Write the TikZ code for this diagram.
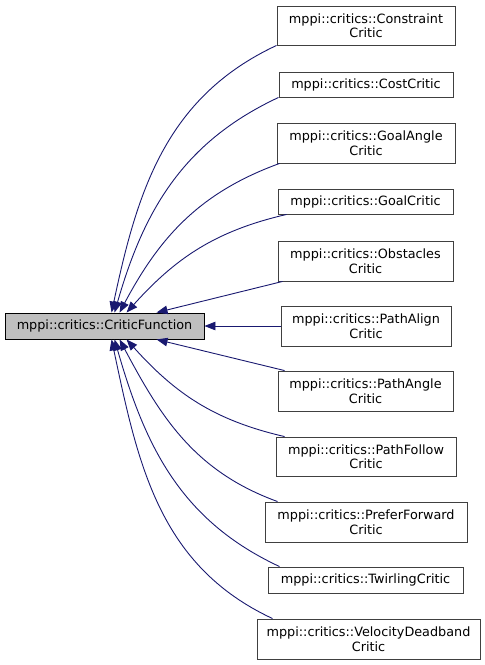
\documentclass[tikz,border=0pt]{standalone}
\usepackage{fontspec}
\setmainfont{DejaVu Sans}
\usetikzlibrary{arrows.meta,calc}
\definecolor{edgeblue}{RGB}{25,25,112}
\definecolor{basefill}{RGB}{191,191,191}
\tikzset{
  cls/.style={draw=black!75, line width=0.9pt, fill=white, inner sep=0pt, align=center,
    font=\fontsize{12.8}{14.5}\selectfont, text=black},
  basecls/.style={cls, draw=black, fill=basefill},
  inh/.style={draw=edgeblue, line width=0.9pt, {Triangle[length=11pt,width=8.5pt]}-},
}
\begin{document}
\begin{tikzpicture}[x=1pt,y=1pt]
\useasboundingbox (0,0) rectangle (485,-665);
\node[basecls, minimum width=199pt, minimum height=26pt] (base) at (104.5,-326) {mppi::critics::CriticFunction};
\node[cls, minimum width=178pt, minimum height=39pt] (c1) at (366,-25.5) {mppi::critics::Constraint\\Critic};
\node[cls, minimum width=174pt, minimum height=25pt] (c2) at (366,-84.5) {mppi::critics::CostCritic};
\node[cls, minimum width=178pt, minimum height=40pt] (c3) at (366,-143) {mppi::critics::GoalAngle\\Critic};
\node[cls, minimum width=175pt, minimum height=25pt] (c4) at (365.5,-201.5) {mppi::critics::GoalCritic};
\node[cls, minimum width=175pt, minimum height=40pt] (c5) at (365.5,-261) {mppi::critics::Obstacles\\Critic};
\node[cls, minimum width=170pt, minimum height=40pt] (c6) at (366,-326) {mppi::critics::PathAlign\\Critic};
\node[cls, minimum width=175pt, minimum height=40pt] (c7) at (365.5,-391) {mppi::critics::PathAngle\\Critic};
\node[cls, minimum width=180pt, minimum height=39pt] (c8) at (366,-456.5) {mppi::critics::PathFollow\\Critic};
\node[cls, minimum width=202pt, minimum height=40pt] (c9) at (366,-522) {mppi::critics::PreferForward\\Critic};
\node[cls, minimum width=195pt, minimum height=26pt] (c10) at (365.5,-580) {mppi::critics::TwirlingCritic};
\node[cls, minimum width=223pt, minimum height=40pt] (c11) at (368.5,-639) {mppi::critics::VelocityDeadband\\Critic};
% arrow tips on the base class
\coordinate (t1) at ($(base.north west)+(107,0)$);
\coordinate (t2) at ($(base.north west)+(110,0)$);
\coordinate (t3) at ($(base.north west)+(115,0)$);
\coordinate (t4) at ($(base.north west)+(122,0)$);
\coordinate (t5) at ($(base.north west)+(152,0)$);
\coordinate (b7) at ($(base.south west)+(152,0)$);
\coordinate (b8) at ($(base.south west)+(122,0)$);
\coordinate (b9) at ($(base.south west)+(115,0)$);
\coordinate (b10) at ($(base.south west)+(110,0)$);
\coordinate (b11) at ($(base.south west)+(107,0)$);
% edges
\draw[inh] (t1) to[out=78,in=205] (c1.south west);
\draw[inh] (t2) to[out=74,in=205] (c2.south west);
\draw[inh] (t3) to[out=62,in=200] ($(c3.south west)+(3,0)$);
\draw[inh] (t4) to[out=48,in=193] ($(c4.south west)+(9,0)$);
\draw[inh] (t5) -- ($(c5.south west)+(5,0)$);
\draw[inh] (base.east) -- (c6.west);
\draw[inh] (b7) -- ($(c7.north west)+(7,0)$);
\draw[inh] (b8) to[out=-48,in=167] ($(c8.north west)+(9,0)$);
\draw[inh] (b9) to[out=-62,in=160] ($(c9.north west)+(13,0)$);
\draw[inh] (b10) to[out=-74,in=155] ($(c10.north west)+(12,0)$);
\draw[inh] (b11) to[out=-78,in=155] ($(c11.north west)+(16,0)$);
\end{tikzpicture}
\end{document}
